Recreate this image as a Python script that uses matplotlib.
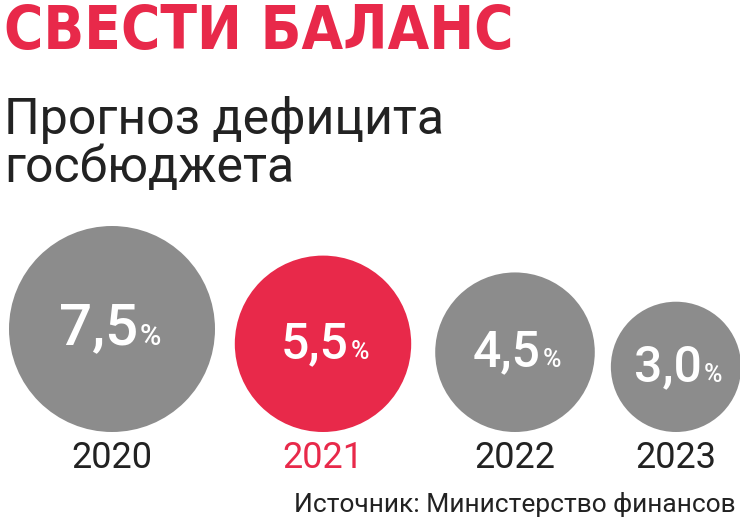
import matplotlib
matplotlib.use("Agg")
import matplotlib.pyplot as plt
from matplotlib.patches import Circle
import numpy as np

years = ["2020", "2021", "2022", "2023"]
values = [7.5, 5.5, 4.5, 3.0]
labels = ["7,5", "5,5", "4,5", "3,0"]
highlight = "2021"
title = "СВЕСТИ БАЛАНС"
subtitle = "Прогноз дефицита\nгосбюджета"
source = "Источник: Министерство финансов"

GRAY = "#8c8c8c"
RED = "#e8294a"

fig = plt.figure(figsize=(7.4, 5.24), dpi=100)
ax = fig.add_axes([0, 0, 1, 1])
ax.set_xlim(0, 740)
ax.set_ylim(524, 0)
ax.axis("off")

fig.text(0.006, 0.995, title, color=RED, fontsize=43, fontweight="bold",
         family=["DejaVu Sans"], fontstretch="condensed", va="top", ha="left")
ax.text(4, 96, subtitle, fontsize=36, family=["Roboto", "DejaVu Sans"],
        color="#222222", va="top", ha="left", linespacing=1.0)

k = 103 / np.sqrt(values[0])
bottom = 432
centers_x = [112, 323, 515, 676]
for x, v, lab, yr in zip(centers_x, values, labels, years):
    r = k * np.sqrt(v)
    c = RED if yr == highlight else GRAY
    ax.add_patch(Circle((x, bottom - r), r, color=c, lw=0))
    fs = 42 if r > 95 else 36
    ax.text(x + 26, bottom - r, lab, color="white", fontsize=fs, fontweight="medium",
            family=["Roboto", "DejaVu Sans"], ha="right", va="center")
    ax.text(x + 28, bottom - r + 8, "%", color="white", fontsize=fs * 0.5, fontweight="medium",
            family=["Roboto", "DejaVu Sans"], ha="left", va="center")
    ax.text(x, 468, yr, color=RED if yr == highlight else "#222222", fontsize=26,
            family=["Roboto", "DejaVu Sans"], ha="center", va="baseline")

ax.text(736, 512, source, fontsize=19, family=["Roboto", "DejaVu Sans"],
        color="#222222", ha="right", va="baseline")

fig.savefig("out.png", dpi=100)
